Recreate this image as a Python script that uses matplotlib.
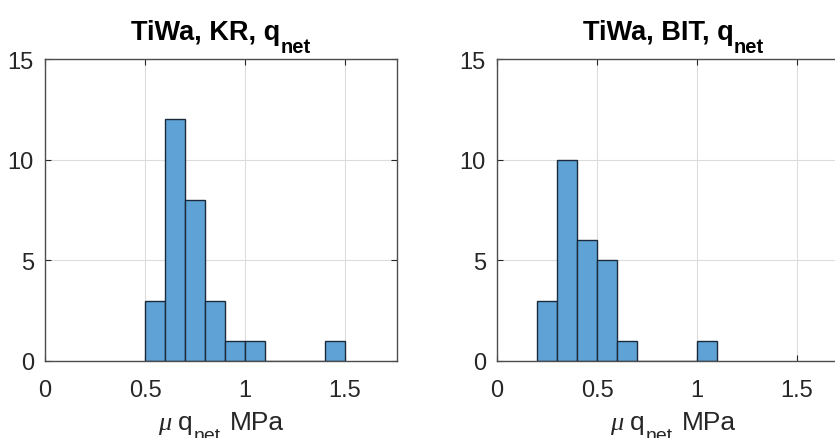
import numpy as np
import matplotlib
matplotlib.use("Agg")
import matplotlib.pyplot as plt

plt.rcParams['font.family'] = ['Liberation Sans', 'DejaVu Sans']

# histogram bins (MPa) and counts per bin
kr_edges = [0.5, 0.6, 0.7, 0.8, 0.9, 1.0, 1.1, 1.2, 1.3, 1.4, 1.5]
kr_counts = [3, 12, 8, 3, 1, 1, 0, 0, 0, 1]

bit_edges = [0.2, 0.3, 0.4, 0.5, 0.6, 0.7, 0.8, 0.9, 1.0, 1.1]
bit_counts = [3, 10, 6, 5, 1, 0, 0, 0, 1]

titles = ['TiWa, KR, q', 'TiWa, BIT, q']
xticks = [0, 0.5, 1, 1.5]
xticklabels = ['0', '0.5', '1', '1.5']
yticks = [0, 5, 10, 15]

face = '#5fa3d6'
txt = '#262626'

W, H = 835, 439
fig = plt.figure(figsize=(W / 100, H / 100), dpi=100)
renderer = fig.canvas.get_renderer()


def line_with_sub(xc, base, parts):
    """parts: (text, size, drop_px, gap_px_before, kwargs); laid out left to right,
    centred on xc, baselines given in pixels from the top."""
    arts = []
    for s, size, drop, gap, kw in parts:
        t = fig.text(0, 0, s, fontsize=size, va='baseline', ha='left', **kw)
        w = t.get_window_extent(renderer).width
        arts.append((t, w, drop, gap))
    total = sum(w + gap for _, w, _, gap in arts)
    x = xc - total / 2
    for t, w, drop, gap in arts:
        x += gap
        t.set_position((x / W, (H - base - drop) / H))
        x += w


# axes boxes in pixels: left, top, right, bottom
boxes = [(45, 60, 397, 362), (497, 60, 849, 362)]
data = [(kr_edges, kr_counts), (bit_edges, bit_counts)]

for (l, t, r, b), (edges, counts), title in zip(boxes, data, titles):
    ax = fig.add_axes([l / W, (H - b) / H, (r - l) / W, (b - t) / H])
    ax.hist(edges[:-1], bins=edges, weights=counts, color=face,
            edgecolor='#1a2a3a', linewidth=1.0, zorder=2)
    ax.set_xlim(0, 1.76)
    ax.set_ylim(0, 15)
    ax.set_xticks(xticks)
    ax.set_xticklabels(xticklabels)
    ax.set_yticks(yticks)
    ax.grid(True, color='#dcdcdc', linewidth=0.8, zorder=0)
    ax.set_axisbelow(True)
    ax.tick_params(direction='in', length=4, width=0.8, top=True, right=True,
                   labelsize=17, colors=txt)
    ax.tick_params(axis='x', pad=13)
    ax.tick_params(axis='y', pad=8)
    for s in ax.spines.values():
        s.set_color('#4d4d4d')
        s.set_linewidth(1.0)

    xc = (l + r) / 2
    # title with a dropped subscript
    line_with_sub(xc, 40, [
        (title, 19.5, 0, 0, dict(fontweight='bold', color='black')),
        ('net', 14.5, 13, 0, dict(fontweight='bold', color='black')),
    ])
    # x label: mu q_net MPa
    line_with_sub(xc, 430, [
        ('\u03bc', 19, 0, 0, dict(family='Liberation Serif', style='italic', color=txt)),
        ('q', 19, 0, 7, dict(color=txt)),
        ('net', 14, 11, 1, dict(color=txt)),
        ('MPa', 19, 0, 9, dict(color=txt)),
    ])

fig.savefig('out.png', dpi=100)
